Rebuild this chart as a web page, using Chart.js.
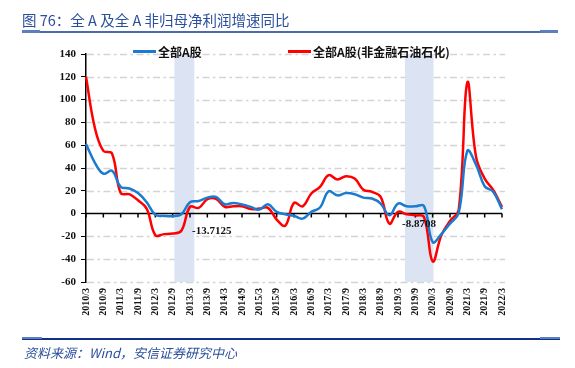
<!DOCTYPE html>
<html>
<head>
<meta charset="utf-8">
<script src="https://cdn.jsdelivr.net/npm/chart.js@4/dist/chart.umd.min.js"></script>
<style>
  body { margin: 0; background: #fff; }
  #wrap { position: relative; width: 575px; height: 368px; overflow: hidden; }
  #c { position: absolute; left: 0; top: 0; }
  .t { position: absolute; white-space: nowrap; }
  .bar { position: absolute; }
</style>
</head>
<body>
<div id="wrap">
  <canvas id="c" width="575" height="368"></canvas>

  <div class="t" style="left:22px;top:9px;font:14.5px 'Noto Sans CJK SC';color:#2a4f9c;">图 76：全 A 及全 A 非归母净利润增速同比</div>
  <div class="bar" style="left:22px;top:31px;width:536px;height:2px;background:#4a6cad;"></div>
  <div class="bar" style="left:22px;top:30px;width:18px;height:3px;background:#5d7fbf;"></div>
  <div class="bar" style="left:540px;top:30px;width:18px;height:3px;background:#5d7fbf;"></div>

  <div class="bar" style="left:133px;top:50px;width:23px;height:3px;background:#1a7bd0;"></div>
  <div class="t" style="left:158px;top:43px;font:bold 12px 'Noto Sans CJK SC';color:#111;">全部A股</div>
  <div class="bar" style="left:288px;top:50px;width:23px;height:3px;background:#ff0000;"></div>
  <div class="t" style="left:313px;top:43px;font:bold 12px 'Noto Sans CJK SC';color:#111;">全部A股(非金融石油石化)</div>

  <div class="t" style="left:192px;top:224px;font:bold 11px 'Liberation Serif';color:#111;">-13.7125</div>
  <div class="t" style="left:402px;top:217px;font:bold 11px 'Liberation Serif';color:#111;">-8.8708</div>

  <div class="bar" style="left:22px;top:338px;width:538px;height:2px;background:#12308a;"></div>
  <div class="bar" style="left:22px;top:337px;width:20px;height:2px;background:#5d7fbf;"></div>
  <div class="bar" style="left:540px;top:337px;width:20px;height:2px;background:#5d7fbf;"></div>
  <div class="t" style="left:24px;top:343px;font:italic 13px 'Noto Sans CJK SC';color:#2a4f9c;">资料来源：Wind，安信证券研究中心</div>
</div>
<script>
var quarters = [
  "2010/3","2010/6","2010/9","2010/12","2011/3","2011/6","2011/9","2011/12",
  "2012/3","2012/6","2012/9","2012/12","2013/3","2013/6","2013/9","2013/12",
  "2014/3","2014/6","2014/9","2014/12","2015/3","2015/6","2015/9","2015/12",
  "2016/3","2016/6","2016/9","2016/12","2017/3","2017/6","2017/9","2017/12",
  "2018/3","2018/6","2018/9","2018/12","2019/3","2019/6","2019/9","2019/12",
  "2020/3","2020/6","2020/9","2020/12","2021/3","2021/6","2021/9","2021/12",
  "2022/3"
];

// 全部A股
var allA = [
  61, 45, 35, 37.5, 23.5, 22, 18, 10,
  -1, -2, -2.3, -0.6, 10, 11, 14, 14.6,
  8.2, 9.4, 8, 5.9, 3.5, 8.2, 1.5, -0.6,
  -2, -4.4, 1.5, 5.3, 19.6, 16, 18, 17,
  14, 13.2, 8.8, -1.5, 8.8, 6.4, 6.4, 6.7,
  -25, -18, -8.8, 0.6, 55, 43, 24, 19,
  3.8
];

// 全部A股(非金融石油石化)
var allAExFin = [
  120, 76, 55, 52.7, 18, 17, 11.7, 4.4,
  -19, -18, -17.5, -15, 5.9, 5, 12.6, 13,
  6, 6.4, 6.4, 4, 4.4, 5, -5.3, -10.5,
  9.4, 6.4, 17.6, 23.4, 33.7, 30, 32.8, 30.7,
  21, 19, 14.6, -8.8, 1.5, -0.6, -1.5, -3,
  -42, -19, -6.4, 3, 115, 50, 30.7, 20.5,
  5.9
];

// shaded periods, in quarter positions on the x axis
var bandFrom = [10.2, 36.8];
var bandTo = [12.5, 40.1];

var yTicks = [-60, 140, 20];

var decor = {
  id: 'decor',
  beforeDatasetsDraw: function (chart) {
    var ctx = chart.ctx, a = chart.chartArea, x = chart.scales.x, y = chart.scales.y;
    ctx.save();
    // dash-dot gridlines
    ctx.strokeStyle = '#d4d4d4';
    ctx.lineWidth = 1.3;
    ctx.setLineDash([7, 3.5, 2.5, 3.5]);
    y.ticks.forEach(function (t) {
      if (t.value === 0) return;
      var py = Math.round(y.getPixelForValue(t.value)) + 0.5;
      ctx.beginPath();
      ctx.moveTo(a.left + 1, py);
      ctx.lineTo(a.right + 3, py);
      ctx.stroke();
    });
    ctx.setLineDash([]);
    // shaded periods
    ctx.fillStyle = '#dce3f3';
    for (var k = 0; k < bandFrom.length; k++) {
      var x1 = x.getPixelForValue(bandFrom[k]);
      var x2 = x.getPixelForValue(bandTo[k]);
      ctx.fillRect(x1, a.top, x2 - x1, a.bottom - a.top);
    }
    // zero line with half-year ticks
    var y0 = y.getPixelForValue(0);
    ctx.strokeStyle = '#000';
    ctx.lineWidth = 1.5;
    ctx.beginPath();
    ctx.moveTo(a.left, y0);
    ctx.lineTo(a.right, y0);
    for (var i = 0; i < quarters.length; i += 2) {
      var px = x.getPixelForValue(i);
      ctx.moveTo(px, y0);
      ctx.lineTo(px, y0 + 4);
    }
    ctx.stroke();
    ctx.restore();
  }
};

new Chart(document.getElementById('c'), {
  type: 'line',
  data: {
    labels: quarters,
    datasets: [
      { label: '全部A股', data: allA, borderColor: '#1a7bd0', borderWidth: 2.5, pointRadius: 0, tension: 0.4 },
      { label: '全部A股(非金融石油石化)', data: allAExFin, borderColor: '#ff0000', borderWidth: 2.5, pointRadius: 0, tension: 0.4 }
    ]
  },
  options: {
    responsive: false,
    animation: false,
    layout: { padding: { left: 0, right: 73, top: 54, bottom: 0 } },
    plugins: { legend: { display: false }, tooltip: { enabled: false } },
    scales: {
      x: {
        type: 'category',
        offset: false,
        grid: { display: false, drawTicks: false },
        border: { display: false },
        ticks: {
          autoSkip: false,
          minRotation: 90,
          maxRotation: 90,
          padding: 6,
          color: '#111',
          font: { family: 'Liberation Serif', size: 10, weight: 'bold' },
          callback: function (v, i) { return i % 2 === 0 ? quarters[i] : ''; }
        },
        afterFit: function (s) { s.height = 86; }
      },
      y: {
        min: yTicks[0],
        max: yTicks[1],
        ticks: {
          stepSize: yTicks[2],
          padding: 5,
          color: '#111',
          font: { family: 'Liberation Serif', size: 11, weight: 'bold' }
        },
        grid: {
          drawOnChartArea: false,
          tickColor: '#000',
          tickLength: 5
        },
        border: { display: true, color: '#000', width: 1.5 },
        afterFit: function (s) { s.width = 86; }
      }
    }
  },
  plugins: [decor]
});
</script>
</body>
</html>
